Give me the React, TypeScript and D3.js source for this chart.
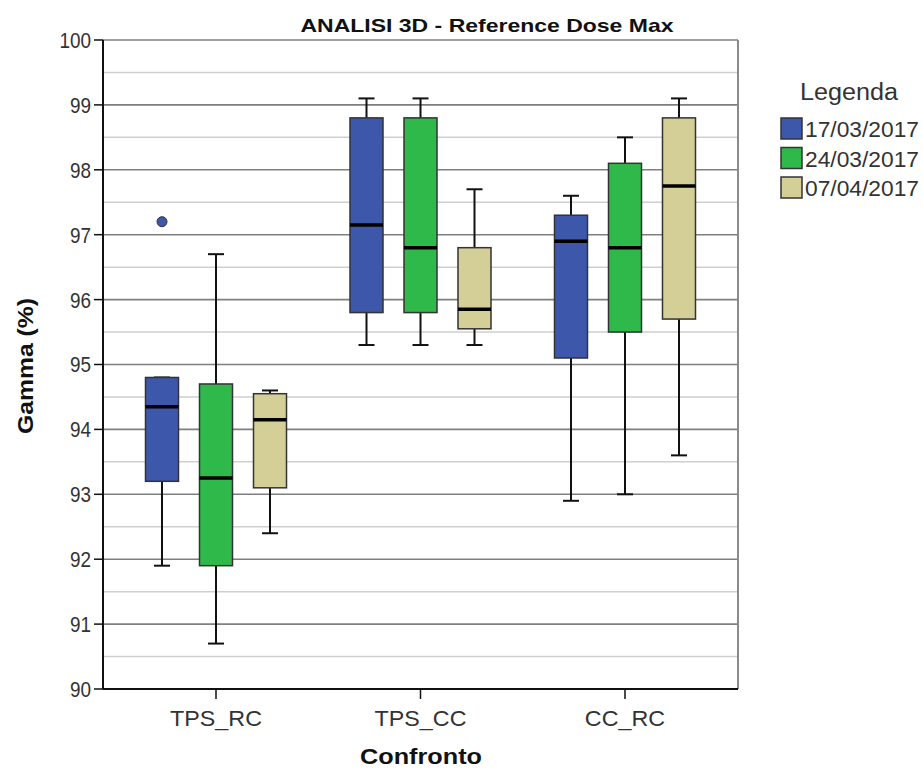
import React from "react";
import * as d3 from "d3";

const categories = ["TPS_RC", "TPS_CC", "CC_RC"];
const seriesNames = ["17/03/2017", "24/03/2017", "07/04/2017"];
const seriesColors = ["#3d57ab", "#2fb94a", "#d4cf96"];

// each entry: [whiskerLow, q1, median, q3, whiskerHigh] per category
const stats17_03 = [
  [91.9, 93.2, 94.35, 94.8, 94.8],
  [95.3, 95.8, 97.15, 98.8, 99.1],
  [92.9, 95.1, 96.9, 97.3, 97.6],
];
const stats24_03 = [
  [90.7, 91.9, 93.25, 94.7, 96.7],
  [95.3, 95.8, 96.8, 98.8, 99.1],
  [93.0, 95.5, 96.8, 98.1, 98.5],
];
const stats07_04 = [
  [92.4, 93.1, 94.15, 94.55, 94.6],
  [95.3, 95.55, 95.85, 96.8, 97.7],
  [93.6, 95.7, 97.75, 98.8, 99.1],
];
const seriesStats = [stats17_03, stats24_03, stats07_04];

// outliers: [seriesIndex, categoryIndex, value]
const outliers = [[0, 0, 97.2]];

const yTicks = [90, 91, 92, 93, 94, 95, 96, 97, 98, 99, 100];
const yMinor = [90.5, 91.5, 92.5, 93.5, 94.5, 95.5, 96.5, 97.5, 98.5, 99.5];

const W = 923;
const H = 770;
const plot = { left: 103, right: 738, top: 40, bottom: 689 };

export default function App() {
  const y = d3.scaleLinear().domain([90, 100]).range([plot.bottom, plot.top]);
  const x = d3
    .scaleBand<string>()
    .domain(categories)
    .range([plot.left, plot.right])
    .paddingInner(0)
    .paddingOuter(0.0526);
  const sub = d3.scalePoint<string>().domain(seriesNames).range([-54, 54]);
  const boxW = 33;
  const capW = 16;
  const sans = "'Liberation Sans', Arial, sans-serif";

  return (
    <svg
      width={W}
      height={H}
      style={{ position: "absolute", left: 0, top: 0, background: "#fff" }}
      fontFamily={sans}
    >
      <rect x={0} y={0} width={W} height={H} fill="#fff" />
      {/* minor grid */}
      {yMinor.map((v) => (
        <line key={"mi" + v} x1={plot.left} x2={plot.right} y1={y(v)} y2={y(v)} stroke="#cfcfcf" strokeWidth={1.5} />
      ))}
      {/* major grid */}
      {yTicks.map((v) => (
        <line key={"ma" + v} x1={plot.left} x2={plot.right} y1={y(v)} y2={y(v)} stroke="#7f7f7f" strokeWidth={1.6} />
      ))}
      {/* right frame */}
      <line x1={plot.right} x2={plot.right} y1={plot.top} y2={plot.bottom} stroke="#8a8a8a" strokeWidth={2} />
      {/* axes */}
      <line x1={plot.left} x2={plot.left} y1={plot.top} y2={plot.bottom} stroke="#111" strokeWidth={2} />
      <line x1={plot.left} x2={plot.right} y1={plot.bottom} y2={plot.bottom} stroke="#111" strokeWidth={2} />
      {/* y ticks */}
      {yTicks.map((v) => (
        <g key={"yt" + v}>
          <line x1={plot.left - 9} x2={plot.left} y1={y(v)} y2={y(v)} stroke="#111" strokeWidth={1.5} />
          <text
            transform={`translate(${plot.left - 12}, ${y(v)}) scale(0.86, 1)`}
            dy="0.36em"
            textAnchor="end"
            fontSize={22}
            fill="#333"
          >
            {v}
          </text>
        </g>
      ))}
      {/* x ticks */}
      {categories.map((c) => {
        const cx = (x(c) as number) + x.bandwidth() / 2;
        return (
          <g key={"xt" + c}>
            <line x1={cx} x2={cx} y1={plot.bottom} y2={plot.bottom + 10} stroke="#111" strokeWidth={1.5} />
            <text
              transform={`translate(${cx}, 726) scale(1.06, 1)`}
              textAnchor="middle"
              fontSize={22}
              fill="#333"
            >
              {c}
            </text>
          </g>
        );
      })}
      {/* boxes */}
      {seriesStats.map((stats, si) =>
        stats.map((s, ci) => {
          const cx = (x(categories[ci]) as number) + x.bandwidth() / 2 + (sub(seriesNames[si]) as number);
          const [lo, q1, med, q3, hi] = s;
          return (
            <g key={"b" + si + "-" + ci}>
              <line x1={cx} x2={cx} y1={y(hi)} y2={y(q3)} stroke="#111" strokeWidth={2} />
              <line x1={cx} x2={cx} y1={y(q1)} y2={y(lo)} stroke="#111" strokeWidth={2} />
              <line x1={cx - capW / 2} x2={cx + capW / 2} y1={y(hi)} y2={y(hi)} stroke="#111" strokeWidth={2} />
              <line x1={cx - capW / 2} x2={cx + capW / 2} y1={y(lo)} y2={y(lo)} stroke="#111" strokeWidth={2} />
              <rect
                x={cx - boxW / 2}
                y={y(q3)}
                width={boxW}
                height={y(q1) - y(q3)}
                fill={seriesColors[si]}
                stroke="#333"
                strokeWidth={1.5}
              />
              <line x1={cx - boxW / 2} x2={cx + boxW / 2} y1={y(med)} y2={y(med)} stroke="#000" strokeWidth={3.5} />
            </g>
          );
        })
      )}
      {/* outliers */}
      {outliers.map(([si, ci, v], i) => {
        const cx = (x(categories[ci]) as number) + x.bandwidth() / 2 + (sub(seriesNames[si]) as number);
        return <circle key={"o" + i} cx={cx} cy={y(v)} r={5} fill={seriesColors[si]} stroke="#333" strokeWidth={1} />;
      })}
      {/* title */}
      <text x={487} y={32} textAnchor="middle" fontSize={19} fontWeight="bold" fill="#111" textLength={373} lengthAdjust="spacingAndGlyphs">
        ANALISI 3D - Reference Dose Max
      </text>
      {/* axis titles */}
      <text x={421} y={764} textAnchor="middle" fontSize={22} fontWeight="bold" fill="#111" textLength={122} lengthAdjust="spacingAndGlyphs">
        Confronto
      </text>
      <text
        transform={`translate(33, 366) rotate(-90)`}
        textAnchor="middle"
        fontSize={22}
        fontWeight="bold"
        fill="#111"
        textLength={136}
        lengthAdjust="spacingAndGlyphs"
      >
        Gamma (%)
      </text>
      {/* legend */}
      <text x={800} y={100} fontSize={23} fill="#333" textLength={98} lengthAdjust="spacingAndGlyphs">
        Legenda
      </text>
      {seriesNames.map((n, i) => (
        <g key={"lg" + i}>
          <rect x={781} y={118 + i * 29.5} width={21} height={21} fill={seriesColors[i]} stroke="#333" strokeWidth={1.5} />
          <text x={805} y={137 + i * 29.5} fontSize={22} fill="#333" textLength={114} lengthAdjust="spacingAndGlyphs">
            {n}
          </text>
        </g>
      ))}
    </svg>
  );
}
